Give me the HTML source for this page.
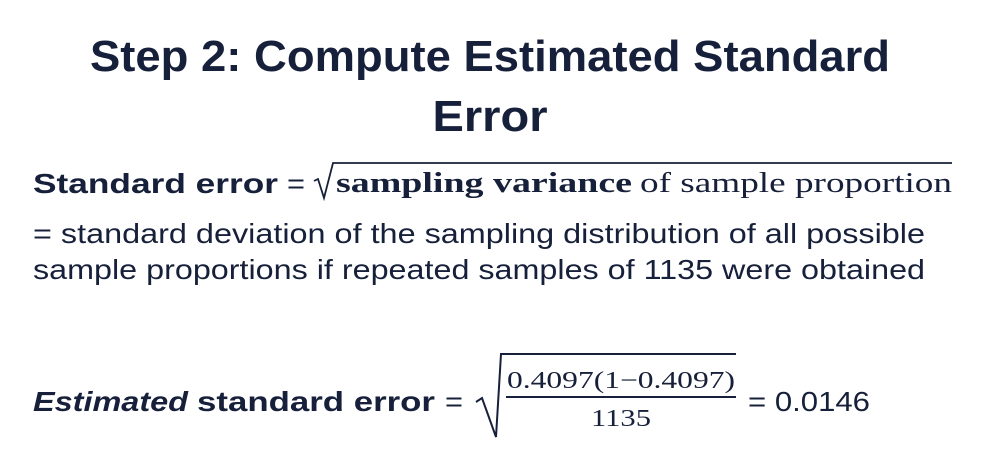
<!DOCTYPE html>
<html><head><meta charset="utf-8"><style>
html,body{margin:0;padding:0;background:#fff;}
svg{display:block;}
text{fill:#17203a;}
.s{font-family:"Liberation Sans",sans-serif;}
.r{font-family:"Liberation Serif",serif;}
</style></head><body>
<svg width="985" height="468" viewBox="0 0 985 468">
<rect width="985" height="468" fill="#fff"/>
<g>
<text class="s" x="490" y="71" font-size="44" font-weight="bold" text-anchor="middle" textLength="800" lengthAdjust="spacingAndGlyphs">Step 2: Compute Estimated Standard</text>
<text class="s" x="490" y="131" font-size="44" font-weight="bold" text-anchor="middle" textLength="115" lengthAdjust="spacingAndGlyphs">Error</text>
</g>
<g>
<text class="s" x="33" y="193" font-size="28" font-weight="bold" textLength="245" lengthAdjust="spacingAndGlyphs">Standard error</text>
<text class="s" x="287" y="193" font-size="28" textLength="18" lengthAdjust="spacingAndGlyphs">=</text>
<path d="M314,181 L318,179 L324,198 L333,163 L952,163" fill="none" stroke="#17203a" stroke-width="1.8"/>
<text class="r" x="336" y="192" font-size="28" font-weight="bold" textLength="296" lengthAdjust="spacingAndGlyphs">sampling variance</text>
<text class="r" x="640" y="192" font-size="28" textLength="312" lengthAdjust="spacingAndGlyphs">of sample proportion</text>
<text class="s" x="33" y="243" font-size="28" textLength="892" lengthAdjust="spacingAndGlyphs">= standard deviation of the sampling distribution of all possible</text>
<text class="s" x="33" y="279" font-size="28" textLength="892" lengthAdjust="spacingAndGlyphs">sample proportions if repeated samples of 1135 were obtained</text>
</g>
<g>
<text class="s" x="33" y="411" font-size="28" font-weight="bold" font-style="italic" textLength="155" lengthAdjust="spacingAndGlyphs">Estimated</text>
<text class="s" x="197" y="411" font-size="28" font-weight="bold" textLength="238" lengthAdjust="spacingAndGlyphs">standard error</text>
<text class="s" x="445" y="411" font-size="28" textLength="18" lengthAdjust="spacingAndGlyphs">=</text>
<path d="M476,402 L482,398 L496,437 L501,354 L736,354" fill="none" stroke="#17203a" stroke-width="2"/>
<text class="r" x="507" y="388" font-size="24" textLength="228" lengthAdjust="spacingAndGlyphs">0.4097(1−0.4097)</text>
<line x1="506" y1="397" x2="736" y2="397" stroke="#17203a" stroke-width="2"/>
<text class="r" x="621" y="426" font-size="24" text-anchor="middle" textLength="60" lengthAdjust="spacingAndGlyphs">1135</text>
<text class="s" x="748" y="411" font-size="28" textLength="122" lengthAdjust="spacingAndGlyphs">= 0.0146</text>
</g>
</svg>
</body></html>
